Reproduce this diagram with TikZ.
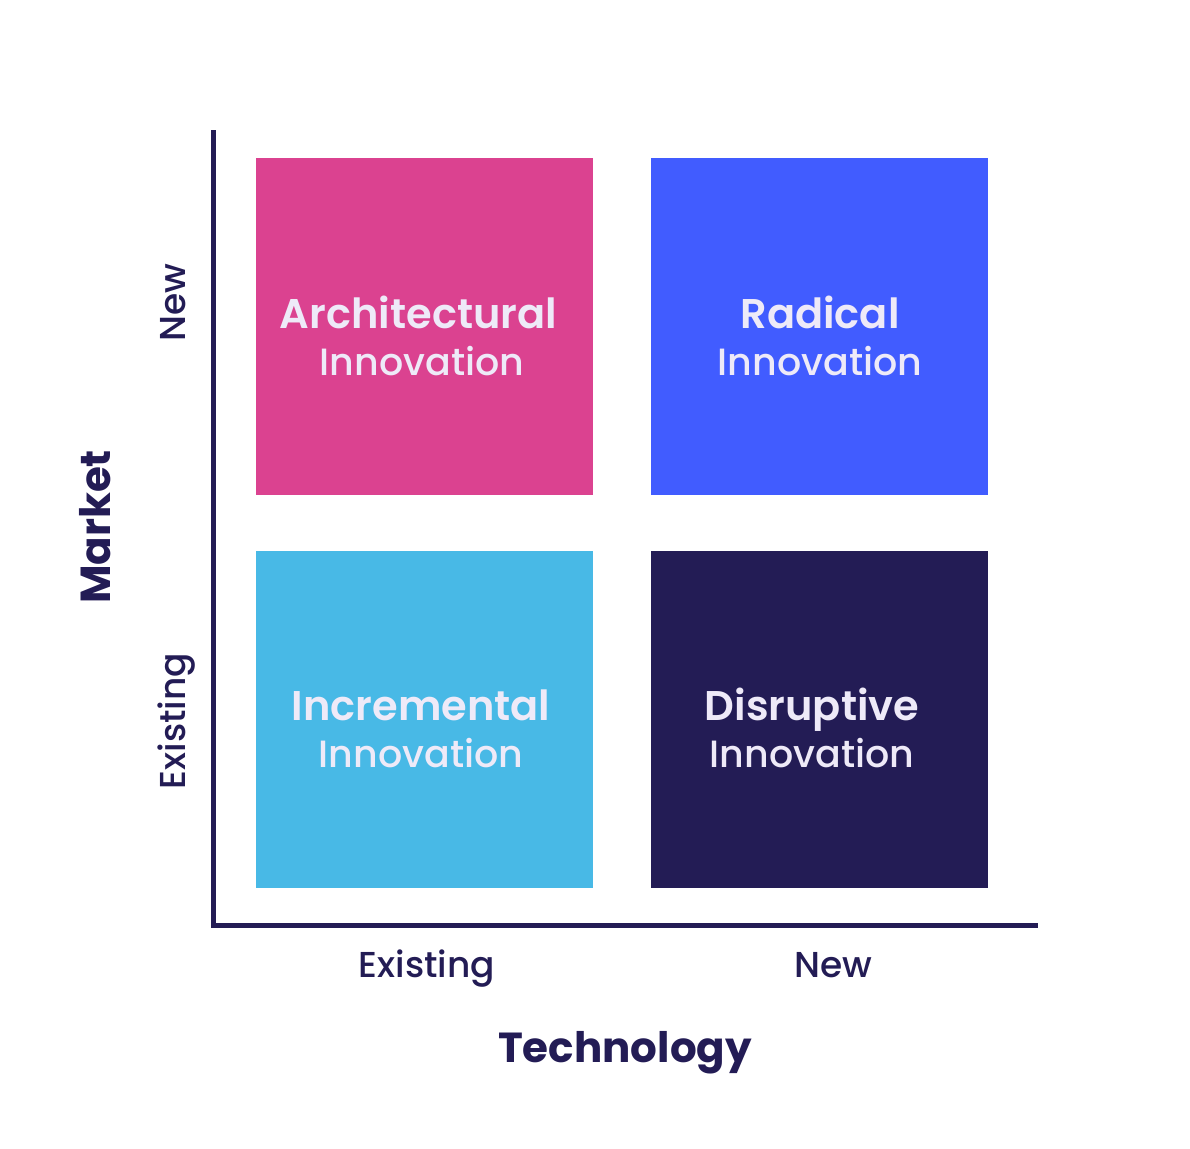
\documentclass[tikz,border=0pt]{standalone}
\usepackage{fontspec}
\setmainfont{Poppins}[UprightFont=* Medium,BoldFont=* SemiBold]
\newfontfamily\popbold{Poppins Bold}
\definecolor{navy}{HTML}{231C55}
\definecolor{pinkc}{HTML}{DB4290}
\definecolor{bluec}{HTML}{415CFF}
\definecolor{skyc}{HTML}{48B9E6}
\definecolor{lav}{HTML}{EEEAF8}
\begin{document}
\begin{tikzpicture}[x=1pt,y=-1pt,
  quad/.style={rectangle,inner sep=0pt,minimum width=337pt,minimum height=337pt},
  qtitle/.style={text=lav,anchor=base,inner sep=0pt,font=\fontsize{41.5}{47}\selectfont\bfseries},
  qsub/.style={text=lav,anchor=base,inner sep=0pt,font=\fontsize{38}{44}\selectfont},
  axlabel/.style={text=navy,anchor=base,inner sep=0pt,font=\fontsize{36}{40}\selectfont},
  axtitle/.style={text=navy,anchor=base,inner sep=0pt,font=\fontsize{42}{50}\selectfont\popbold},
  axis/.style={draw=navy,line width=5pt,line join=miter}]
\useasboundingbox (0,0) rectangle (1190,1148);
\node[quad,fill=pinkc] (arch) at (424,326.5) {};
\node[quad,fill=bluec] (rad) at (819,326.5) {};
\node[quad,fill=skyc] (inc) at (424,719.5) {};
\node[quad,fill=navy] (dis) at (819,719.5) {};
\node[qtitle] (archT) at (418.5,328) {Architectural};
\node[qsub] (archI) at (422,375) {Innovation};
\node[qtitle] (radT) at (820,328) {Radical};
\node[qsub] (radI) at (820,375) {Innovation};
\node[qtitle] (incT) at (421,720) {Incremental};
\node[qsub] (incI) at (421,767) {Innovation};
\node[qtitle] (disT) at (812,720) {Disruptive};
\node[qsub] (disI) at (812,767) {Innovation};
\coordinate (top) at (213,130);
\coordinate (origin) at (213,925);
\coordinate (right) at (1038,925);
\draw[axis] (top) -- (origin) -- (right);
\node[axlabel,rotate=90] (ynew) at (185,303) {New};
\node[axlabel,rotate=90] (yex) at (185,721) {Existing};
\node[axtitle,rotate=90] (market) at (110,527) {Market};
\node[axlabel] (xex) at (427,977) {Existing};
\node[axlabel] (xnew) at (833,977) {New};
\node[axtitle] (tech) at (625,1062) {Technology};
\end{tikzpicture}
\end{document}
